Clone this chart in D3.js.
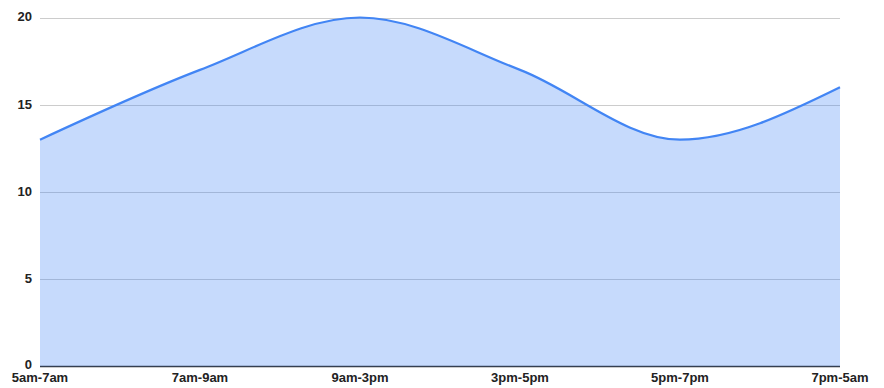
<!DOCTYPE html>
<html>
<head>
<meta charset="utf-8">
<script src="https://cdn.jsdelivr.net/npm/d3@7"></script>
<style>
html,body{margin:0;padding:0;background:#fff;}
svg{display:block;}
text{font-family:"Liberation Sans",Arial,sans-serif;font-weight:bold;font-size:13px;fill:#222;}
</style>
</head>
<body>
<svg id="chart" width="884" height="388"></svg>
<script>
const categories = ["5am-7am","7am-9am","9am-3pm","3pm-5pm","5pm-7pm","7pm-5am"];
const values = [13, 17, 20, 17, 13, 16];
const yTicks = [0, 5, 10, 15, 20];

const svg = d3.select("#chart");
const x = d3.scalePoint().domain(categories).range([40, 840]);
const y = d3.scaleLinear().domain([0, 20]).range([366.5, 17.5]);

const data = categories.map((c, i) => ({c, v: values[i]}));

// gridlines
svg.append("g").selectAll("line").data(yTicks.filter(t => t !== 0)).join("line")
  .attr("x1", 40).attr("x2", 840)
  .attr("y1", d => Math.round(y(d)) + 0.5).attr("y2", d => Math.round(y(d)) + 0.5)
  .attr("stroke", "#cccccc").attr("stroke-width", 1);

// baseline
svg.append("line")
  .attr("x1", 40).attr("x2", 840)
  .attr("y1", y(0)).attr("y2", y(0))
  .attr("stroke", "#333").attr("stroke-width", 1.5);

// area
const area = d3.area().x(d => x(d.c)).y0(y(0)).y1(d => y(d.v)).curve(d3.curveMonotoneX);
svg.append("path").datum(data).attr("d", area)
  .attr("fill", "#4285f4").attr("fill-opacity", 0.3);

// line
const line = d3.line().x(d => x(d.c)).y(d => y(d.v)).curve(d3.curveMonotoneX);
svg.append("path").datum(data).attr("d", line)
  .attr("fill", "none").attr("stroke", "#4285f4").attr("stroke-width", 2.2);

// y labels
svg.append("g").selectAll("text").data(yTicks).join("text")
  .attr("x", 32).attr("y", d => d === 0 ? y(d) + 2 : y(d) + 3.8)
  .attr("text-anchor", "end").text(d => d);

// x labels
svg.append("g").selectAll("text").data(categories).join("text")
  .attr("x", d => x(d)).attr("y", 382)
  .attr("text-anchor", "middle").text(d => d);
</script>
</body>
</html>
